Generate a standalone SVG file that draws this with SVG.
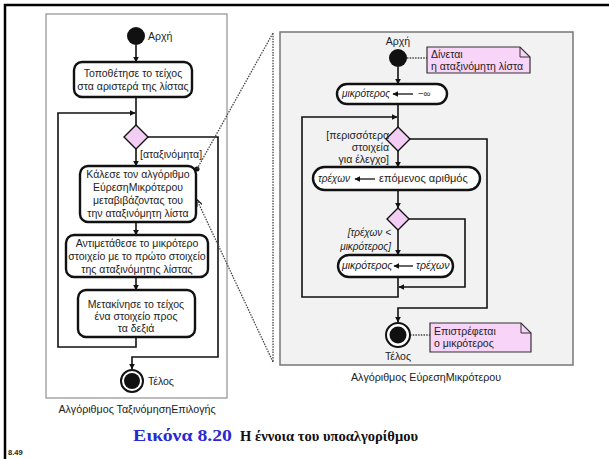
<svg xmlns="http://www.w3.org/2000/svg" width="609" height="459" viewBox="0 0 609 459">
  <defs>
    <marker id="arr" viewBox="0 0 10 10" refX="9" refY="5" markerWidth="6" markerHeight="6" orient="auto" markerUnits="userSpaceOnUse">
      <path d="M0,0 L10,5 L0,10 z" fill="#111"/>
    </marker>
    <marker id="arrStart" viewBox="0 0 10 10" refX="1" refY="5" markerWidth="6" markerHeight="6" orient="auto" markerUnits="userSpaceOnUse">
      <path d="M10,0 L0,5 L10,10 z" fill="#111"/>
    </marker>
    <marker id="arrOpen" viewBox="0 0 10 10" refX="9" refY="5" markerWidth="7" markerHeight="7" orient="auto" markerUnits="userSpaceOnUse">
      <path d="M0,1 L10,5 L0,9" fill="none" stroke="#111" stroke-width="1.5"/>
    </marker>
  </defs>
  <style>
    text { font-family: "Liberation Sans", "DejaVu Sans", sans-serif; fill: #222; }
    .t { font-size: 10.5px; text-anchor: middle; }
    .s { font-size: 10.5px; }
    .it { font-style: italic; font-size: 10px; }
    .g { font-style: italic; font-size: 10px; }
    .lbl { font-size: 10.7px; text-anchor: middle; }
    .act { fill: #fff; stroke: #111; stroke-width: 2.4; }
    .dec { fill: #f3cdf3; stroke: #111; stroke-width: 1.4; }
    .note { fill: #f8d4f8; stroke: #333; stroke-width: 1.2; }
    .flow { fill: none; stroke: #111; stroke-width: 1.6; }
    .dot { fill: none; stroke: #444; stroke-width: 1.3; stroke-dasharray: 1.5 1.2; }
    .cap { font-family: "Liberation Serif", "DejaVu Serif", serif; font-weight: bold; }
  </style>

  <rect width="609" height="459" fill="#fff"/>
  <!-- page frame -->
  <path d="M5,459 V5 H609" fill="none" stroke="#000" stroke-width="2.5"/>

  <!-- panels -->
  <rect id="panel-selection" x="46" y="14" width="181" height="384" fill="#fff" stroke="#999" stroke-width="1.3"/>
  <rect id="panel-min" x="280" y="32" width="293" height="333" fill="#f2f2f2" stroke="#777" stroke-width="1.5"/>

  <!-- connectors -->
  <g id="connectors">
    <!-- selection sort -->
    <line class="flow" x1="136" y1="45" x2="136" y2="62" marker-end="url(#arr)"/>
    <line class="flow" x1="136" y1="97" x2="136" y2="125"/>
    <path class="flow" d="M136,337 V347 H58 V113 H135" marker-end="url(#arr)"/>
    <line class="flow" x1="136" y1="149" x2="136" y2="166" marker-end="url(#arr)"/>
    <path class="flow" d="M148,137 H218 V357 H132 V369" marker-end="url(#arr)"/>
    <line class="flow" x1="136" y1="222" x2="136" y2="235" marker-end="url(#arr)"/>
    <line class="flow" x1="136" y1="277" x2="136" y2="290" marker-end="url(#arr)"/>

    <!-- find minimum -->
    <line class="flow" x1="398" y1="67" x2="398" y2="84" marker-end="url(#arr)"/>
    <line class="flow" x1="398" y1="104" x2="398" y2="127"/>
    <path class="flow" d="M398,277 V297 H302 V117 H397" marker-end="url(#arr)"/>
    <line class="flow" x1="398" y1="151" x2="398" y2="167" marker-end="url(#arr)"/>
    <path class="flow" d="M410,139 H487 V308 H398 V322" marker-end="url(#arr)"/>
    <line class="flow" x1="398" y1="190" x2="398" y2="208" marker-end="url(#arr)"/>
    <path class="flow" d="M409,219 H465 V287 H399" marker-end="url(#arr)"/>
    <line class="flow" x1="398" y1="230" x2="398" y2="255" marker-end="url(#arr)"/>

    <!-- note anchors -->
    <line class="dot" x1="407" y1="58" x2="427" y2="58"/>
    <line class="dot" x1="410" y1="335" x2="430" y2="335"/>

    <!-- call link between the two panels -->
    <circle cx="197" cy="169" r="2.5" fill="#111"/>
    <line class="dot" x1="197" y1="169" x2="273" y2="33"/>
    <line class="dot" x1="273" y1="33" x2="273" y2="362"/>
    <line class="dot" x1="273" y1="362" x2="197" y2="200" marker-end="url(#arrOpen)"/>
  </g>

  <!-- selection sort nodes -->
  <g id="sel-start">
    <circle cx="136" cy="36" r="9" fill="#111"/>
    <text class="s" x="148" y="40">Αρχή</text>
  </g>
  <g id="sel-wall">
    <rect class="act" x="74" y="62" width="118" height="35" rx="8"/>
    <text class="t" x="133" y="77">Τοποθέτησε το τείχος</text>
    <text class="t" x="133" y="90">στα αριστερά της λίστας</text>
  </g>
  <g id="sel-decision">
    <polygon class="dec" points="136,125 148,137 136,149 124,137"/>
    <text class="s" x="140" y="158">[αταξινόμητα]</text>
  </g>
  <g id="sel-call">
    <rect class="act" x="80" y="166" width="116" height="56" rx="8"/>
    <text class="t" x="138" y="178">Κάλεσε τον αλγόριθμο</text>
    <text class="t" x="138" y="191">ΕύρεσηΜικρότερου</text>
    <text class="t" x="138" y="204">μεταβιβάζοντας του</text>
    <text class="t" x="138" y="217">την αταξινόμητη λίστα</text>
  </g>
  <g id="sel-swap">
    <rect class="act" x="66" y="235" width="142" height="42" rx="8"/>
    <text class="t" x="137" y="247">Αντιμετάθεσε το μικρότερο</text>
    <text class="t" x="137" y="260">στοιχείο με το πρώτο στοιχείο</text>
    <text class="t" x="137" y="273">της αταξινόμητης λίστας</text>
  </g>
  <g id="sel-move">
    <rect class="act" x="78" y="290" width="117" height="47" rx="8"/>
    <text class="t" x="136" y="308">Μετακίνησε το τείχος</text>
    <text class="t" x="136" y="320">ένα στοιχείο προς</text>
    <text class="t" x="136" y="332">τα δεξιά</text>
  </g>
  <g id="sel-end">
    <circle cx="132" cy="381" r="11" fill="#fff" stroke="#111" stroke-width="2"/>
    <circle cx="132" cy="381" r="8" fill="#111"/>
    <text class="s" x="148" y="385">Τέλος</text>
  </g>
  <text class="lbl" x="137" y="413">Αλγόριθμος ΤαξινόμησηΕπιλογής</text>

  <!-- find minimum nodes -->
  <g id="min-start">
    <text class="s" x="398" y="45" text-anchor="middle">Αρχή</text>
    <circle cx="398" cy="58" r="9" fill="#111"/>
  </g>
  <g id="min-note-in">
    <path class="note" d="M427,47 H520 L530,57 V73 H427 Z"/>
    <path d="M520,47 V57 H530" fill="none" stroke="#333" stroke-width="1"/>
    <text class="s" x="431" y="58">Δίνεται</text>
    <text class="s" x="431" y="70">η αταξινόμητη λίστα</text>
  </g>
  <g id="min-init">
    <rect class="act" x="337" y="84" width="110" height="20" rx="10"/>
    <text class="it" x="342" y="97">μικρότερος</text>
    <line x1="393" y1="94" x2="413" y2="94" stroke="#111" stroke-width="1.3" marker-start="url(#arrStart)"/>
    <text class="s" x="418" y="97" style="font-size:9.5px">−∞</text>
  </g>
  <g id="min-decision-more">
    <polygon class="dec" points="398,127 410,139 398,151 386,139"/>
    <text class="s" x="389" y="139" text-anchor="end">[περισσότερα</text>
    <text class="s" x="389" y="151" text-anchor="end">στοιχεία</text>
    <text class="s" x="389" y="163" text-anchor="end">για έλεγχο]</text>
  </g>
  <g id="min-next">
    <rect class="act" x="313" y="167" width="167" height="23" rx="11.5"/>
    <text class="it" x="318" y="182">τρέχων</text>
    <line x1="355" y1="179" x2="375" y2="179" stroke="#111" stroke-width="1.3" marker-start="url(#arrStart)"/>
    <text class="s" x="379" y="182" style="font-size:11px">επόμενος αριθμός</text>
  </g>
  <g id="min-decision-less">
    <polygon class="dec" points="398,208 409,219 398,230 387,219"/>
    <text class="g" x="391" y="236" text-anchor="end">[τρέχων &lt;</text>
    <text class="g" x="391" y="250" text-anchor="end">μικρότερος]</text>
  </g>
  <g id="min-update">
    <rect class="act" x="338" y="255" width="115" height="22" rx="11"/>
    <text class="it" x="342" y="269" style="font-size:10.5px">μικρότερος</text>
    <line x1="394" y1="266" x2="413" y2="266" stroke="#111" stroke-width="1.3" marker-start="url(#arrStart)"/>
    <text class="it" x="416" y="269" style="font-size:10.5px">τρέχων</text>
  </g>
  <g id="min-end">
    <circle cx="398" cy="335" r="12" fill="#fff" stroke="#111" stroke-width="2"/>
    <circle cx="398" cy="335" r="8.5" fill="#111"/>
    <text class="s" x="398" y="360" text-anchor="middle">Τέλος</text>
  </g>
  <g id="min-note-out">
    <path class="note" d="M430,323 H521 L531,333 V352 H430 Z"/>
    <path d="M521,323 V333 H531" fill="none" stroke="#333" stroke-width="1"/>
    <text class="s" x="434" y="335">Επιστρέφεται</text>
    <text class="s" x="434" y="347">ο μικρότερος</text>
  </g>
  <text class="lbl" x="426" y="381">Αλγόριθμος ΕύρεσηΜικρότερου</text>

  <!-- caption -->
  <text class="cap" x="133" y="441" textLength="99" lengthAdjust="spacingAndGlyphs" style="font-size:17px; fill:#2a2ad2">Εικόνα 8.20</text>
  <text class="cap" x="240" y="441" textLength="178" lengthAdjust="spacingAndGlyphs" style="font-size:14px; fill:#111">Η έννοια του υποαλγορίθμου</text>
  <text x="8" y="455" style="font-size:7.5px; font-weight:bold; fill:#222">8.49</text>
</svg>
